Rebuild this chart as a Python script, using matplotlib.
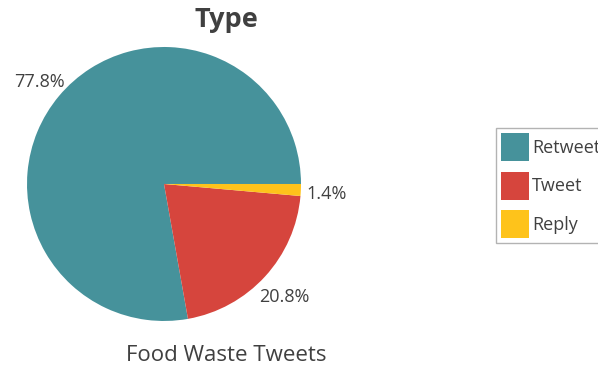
import matplotlib
matplotlib.use("Agg")
import matplotlib.pyplot as plt
from matplotlib.transforms import offset_copy

# data
labels = ['Retweet', 'Tweet', 'Reply']
shares = [77.8, 20.8, 1.4]
colors = ['#46929b', '#d6453d', '#fec31b']

plt.rcParams['font.family'] = ['Open Sans', 'DejaVu Sans']
text_col = '#404040'

fig = plt.figure(figsize=(5.98, 3.66), dpi=100)
ax = fig.add_axes([-0.0121, 0.0294, 0.5727, 0.9358])

wedges, _, autotexts = ax.pie(
    shares, colors=colors, startangle=0, counterclock=True,
    autopct='%1.1f%%', pctdistance=1.19,
    wedgeprops=dict(linewidth=0),
    textprops=dict(color=text_col, fontsize=13),
)
ax.set_xlim(-1.25, 1.25)
ax.set_ylim(-1.25, 1.25)
# labels sit a bit lower in the original
for t in autotexts:
    t.set_transform(offset_copy(ax.transData, fig=fig, y=-3, units='dots'))

fig.text(226 / 598, 1 - 27 / 366, 'Type', ha='center', va='baseline',
         fontsize=19.5, fontweight='bold', color=text_col)
fig.text(226 / 598, 1 - 361 / 366, 'Food Waste Tweets', ha='center',
         va='baseline', fontsize=16, color=text_col)

leg = fig.legend(wedges, labels, loc='upper left',
                 bbox_to_anchor=(496 / 598, 1 - 128 / 366),
                 fontsize=13, frameon=True, fancybox=False,
                 handlelength=1.5, handleheight=2.0, labelspacing=0.58,
                 handletextpad=0.2, borderpad=0.3, borderaxespad=0)
leg.get_frame().set_edgecolor('#a0a0a0')
leg.get_frame().set_linewidth(1)
for t in leg.get_texts():
    t.set_color(text_col)

fig.savefig('out.png', dpi=100)
